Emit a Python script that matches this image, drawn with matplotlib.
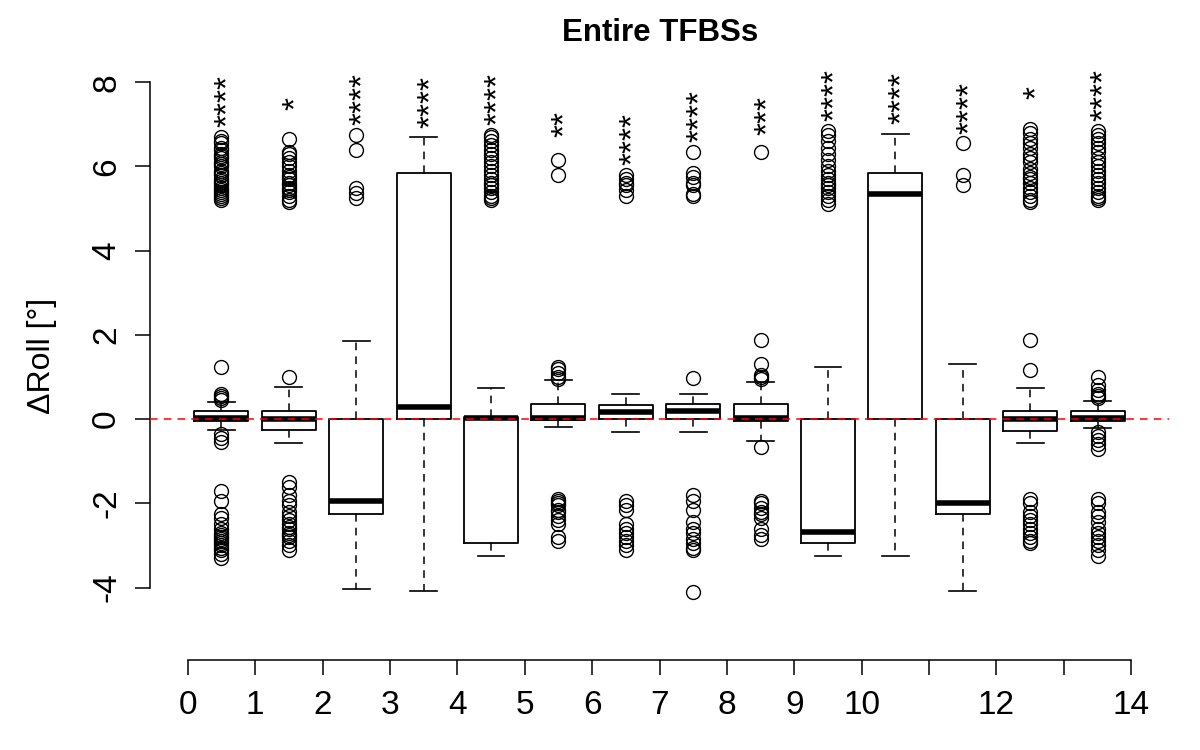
import numpy as np
import matplotlib
matplotlib.use('Agg')
import matplotlib.pyplot as plt
import matplotlib.transforms as mtransforms

plt.rcParams['font.family'] = ['Liberation Sans', 'DejaVu Sans']

# box statistics (one entry per group)
med = [0.02, 0.0, -1.94, 0.28, 0.02, 0.02, 0.17, 0.19, 0.02, -2.68, 5.34, -1.99, 0.0, 0.02]
q1 = [-0.04, -0.26, -2.26, 0.0, -2.95, -0.02, 0.0, 0.0, -0.04, -2.95, 0.0, -2.26, -0.28, -0.04]
q3 = [0.19, 0.19, 0.0, 5.84, 0.04, 0.37, 0.33, 0.36, 0.37, 0.0, 5.84, 0.0, 0.19, 0.19]
whislo = [-0.26, -0.56, -4.04, -4.08, -3.25, -0.18, -0.31, -0.31, -0.52, -3.25, -3.25, -4.08, -0.56, -0.2]
whishi = [0.41, 0.76, 1.86, 6.69, 0.74, 0.93, 0.59, 0.59, 0.89, 1.23, 6.78, 1.31, 0.74, 0.42]

fliers = [
    [5.2, 5.25, 5.3, 5.35, 5.4, 5.45, 5.5, 5.55, 5.6, 5.65, 5.7, 5.8, 5.85, 5.9, 6.0, 6.05,
     6.1, 6.2, 6.25, 6.3, 6.4, 6.45, 6.55, 6.6, 6.7, 1.25, 0.6, 0.55, 0.5, 0.45,
     -0.35, -0.45, -0.55, -1.7, -1.95, -2.25, -2.35, -2.5, -2.6, -2.7, -2.75, -2.8,
     -2.85, -2.9, -2.95, -3.0, -3.05, -3.1, -3.2, -3.3],
    [5.15, 5.2, 5.3, 5.4, 5.45, 5.5, 5.55, 5.6, 5.7, 5.75, 5.8, 5.9, 6.0, 6.1, 6.2, 6.3,
     6.35, 6.65, 1.0, -1.5, -1.6, -1.8, -1.95, -2.05, -2.2, -2.3, -2.4, -2.5, -2.55,
     -2.6, -2.7, -2.75, -2.8, -2.9, -3.0, -3.1],
    [6.75, 6.38, 5.5, 5.38, 5.25],
    [],
    [5.2, 5.25, 5.3, 5.4, 5.5, 5.55, 5.6, 5.7, 5.8, 5.9, 6.0, 6.1, 6.2, 6.3, 6.4, 6.5,
     6.6, 6.7, 6.75],
    [6.15, 5.8, 1.25, 1.2, 1.1, 1.0, 0.95, -1.9, -1.95, -2.0, -2.05, -2.15, -2.2, -2.3,
     -2.4, -2.5, -2.8, -2.9],
    [5.3, 5.45, 5.55, 5.6, 5.7, 5.8, -1.95, -2.05, -2.15, -2.5, -2.6, -2.7, -2.8, -2.9,
     -3.0, -3.1],
    [6.35, 5.85, 5.75, 5.6, 5.55, 5.35, 5.3, 0.98, -1.8, -1.95, -2.15, -2.45, -2.6, -2.7,
     -2.85, -2.95, -3.05, -3.1, -4.1],
    [6.35, 1.87, 1.3, 1.05, 1.0, 0.95, -0.67, -1.95, -2.0, -2.1, -2.2, -2.25, -2.35,
     -2.6, -2.75, -2.85],
    [5.1, 5.2, 5.3, 5.4, 5.5, 5.55, 5.6, 5.7, 5.8, 5.9, 6.0, 6.15, 6.3, 6.45, 6.6, 6.75,
     6.85],
    [],
    [6.55, 5.8, 5.55],
    [5.15, 5.2, 5.3, 5.4, 5.5, 5.6, 5.7, 5.75, 5.85, 5.95, 6.1, 6.2, 6.3, 6.45, 6.55,
     6.65, 6.8, 6.9, 1.87, 1.16, -1.9, -2.0, -2.2, -2.3, -2.4, -2.5, -2.6, -2.7, -2.8,
     -2.9, -2.95],
    [5.2, 5.25, 5.3, 5.4, 5.5, 5.6, 5.7, 5.8, 5.9, 6.0, 6.1, 6.2, 6.35, 6.45, 6.55, 6.65,
     6.75, 6.85, 1.0, 0.8, 0.7, 0.6, 0.55, 0.5, -0.3, -0.4, -0.5, -0.6, -0.7, -1.9, -2.0,
     -2.2, -2.3, -2.45, -2.6, -2.7, -2.8, -2.9, -3.0, -3.1, -3.25],
]

stars = ['****', '*', '****', '****', '****', '**', '****', '****', '***', '****',
         '****', '****', '*', '****']

xticks = list(range(15))
xtick_labels = ['0', '1', '2', '3', '4', '5', '6', '7', '8', '9', '10', '', '12', '', '14']
yticks = [-4, -2, 0, 2, 4, 6, 8]

positions = np.arange(len(med)) + 0.5

stats = []
for i in range(len(med)):
    stats.append(dict(med=med[i], q1=q1[i], q3=q3[i], whislo=whislo[i],
                      whishi=whishi[i], fliers=fliers[i]))

fig = plt.figure(figsize=(12, 7.5), dpi=100)
ax = fig.add_axes([150 / 1200, 1 - 660 / 750, 1019 / 1200, 603 / 750])

ax.bxp(stats, positions=positions, widths=0.8, capwidths=0.4,
       boxprops=dict(color='black', linewidth=1.3),
       medianprops=dict(color='black', linewidth=4),
       whiskerprops=dict(color='black', linewidth=1.1, linestyle=(0, (5, 4))),
       capprops=dict(color='black', linewidth=1.2),
       flierprops=dict(marker='o', markerfacecolor='none', markeredgecolor='black',
                       markersize=10, markeredgewidth=1.0))

ax.axhline(0, color='red', linewidth=1.1, linestyle=(0, (5, 4)), zorder=5)

# significance stars, rotated like R's srt=90 text
star_tr = mtransforms.offset_copy(ax.transData, fig=fig, x=0.47 * 24, y=0, units='points')
for i, s in enumerate(stars):
    top = max([whishi[i]] + fliers[i])
    ax.text(positions[i], top + 0.85, s, rotation=90, rotation_mode='anchor',
            ha='center', va='baseline', fontsize=24, transform=star_tr)

ax.set_xlim(-0.56, 14.56)
ax.set_ylim(-5.72, 8.6)

for side in ['top', 'right']:
    ax.spines[side].set_visible(False)
ax.spines['left'].set_bounds(-4, 8)
ax.spines['bottom'].set_bounds(0, 14)
ax.spines['left'].set_linewidth(1.1)
ax.spines['bottom'].set_linewidth(1.1)

ax.set_xticks(xticks)
ax.set_xticklabels(xtick_labels)
ax.set_yticks(yticks)
ax.set_yticklabels([str(v) for v in yticks], rotation=90, va='center')
ax.tick_params(axis='x', length=11, width=1.1, pad=10.5, labelsize=24)
ax.tick_params(axis='y', length=11, width=1.1, pad=9, labelsize=24)

fig.text(0.035, 1 - 356 / 750, 'ΔRoll [°]', rotation=90, ha='center', va='center',
         fontsize=23)
fig.text(660 / 1200, 1 - 41 / 750, 'Entire TFBSs', ha='center', va='baseline',
         fontsize=22.5, fontweight='bold')

fig.savefig('out.png', dpi=100)
